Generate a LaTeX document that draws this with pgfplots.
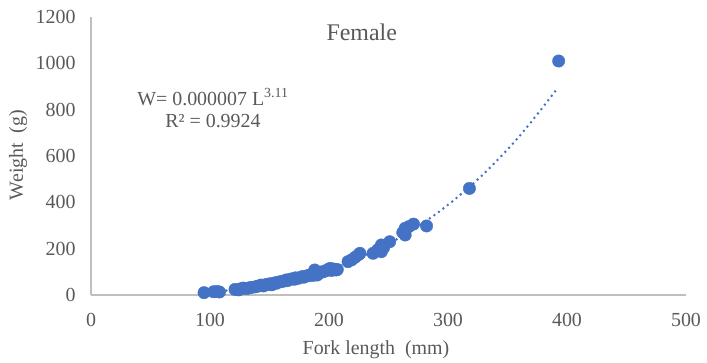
\documentclass[border=0pt]{standalone}
\usepackage{pgfplots}
\pgfplotsset{compat=1.18}
\usepackage{fontspec}
\setmainfont{Liberation Serif}

\definecolor{ptblue}{HTML}{4472C4}
\definecolor{txtgray}{HTML}{595959}
\definecolor{axgray}{HTML}{BFBFBF}

% Length-weight data for females: fork length (mm), weight (g)
\pgfplotstableread{
L W
95 10
103 14
106 15
108 13
121 24
124 22
126 27
128 30
131 28
133 31
135 33
138 35
140 38
142 40
143 43
145 39
147 45
149 46
150 48
152 44
153 50
155 53
156 51
158 56
160 58
162 60
164 65
165 62
167 67
169 70
171 68
172 74
174 72
176 76
178 80
179 77
181 82
183 85
185 88
186 84
188 108
189 92
190 86
192 95
193 99
195 100
197 104
199 110
201 115
202 106
204 112
206 108
207 110
216 144
219 152
222 163
225 175
226 180
237 180
241 195
244 187
244 216
246 205
251 230
262 270
264 259
264 288
267 295
271 306
282 298
318 460
393 1010
}\femaledata

% Power trendline W = a L^b
\pgfplotstableread{
L W
95 10.9
120 22.5
150 45.0
180 79.5
210 128
240 194
270 280
300 389
330 523
360 685
390 879
}\trenddata

\begin{document}
\begin{tikzpicture}
\begin{axis}[
  at={(0,0)}, anchor=south west,
  scale only axis, width=595bp, height=278bp,
  xmin=0, xmax=500, ymin=0, ymax=1200,
  xtick={0,100,...,500}, ytick={0,200,...,1200},
  axis lines=left,
  axis line style={-, draw=axgray, line width=1.2bp},
  major tick length=0pt,
  clip=false,
  /pgf/number format/assume math mode=true,
  /pgf/number format/1000 sep={},
  tick label style={font=\fontsize{20}{20}\selectfont, text=txtgray},
  yticklabel style={xshift=-12bp},
  xticklabel style={yshift=-15bp},
]
\addplot[ptblue, line width=2.8bp, line cap=round,
  dash pattern=on 0pt off 5.6bp, smooth] table[x=L, y=W] {\trenddata};
\addplot[only marks, mark=*, mark size=6.2bp,
  mark options={draw=ptblue, fill=ptblue}] table[x=L, y=W] {\femaledata};

\node[txtgray, font=\fontsize{24}{24}\selectfont]
  at (axis description cs:0.455,0.946) {Female};
\node[txtgray, font=\fontsize{20}{20}\selectfont]
  at (axis description cs:0.479,-0.198) {Fork length~ (mm)};
\node[txtgray, font=\fontsize{20}{20}\selectfont, rotate=90]
  at (axis description cs:-0.1227,0.504) {Weight~ (g)};
\node[txtgray, font=\fontsize{20}{20}\selectfont]
  at (axis description cs:0.205,0.712) {W= 0.000007 L\textsuperscript{3.11}};
\node[txtgray, font=\fontsize{20}{20}\selectfont]
  at (axis description cs:0.205,0.626) {R² = 0.9924};
\end{axis}
\pgfresetboundingbox
\path[use as bounding box] (-91bp,-68bp) rectangle (616bp,295bp);
\end{tikzpicture}
\end{document}
